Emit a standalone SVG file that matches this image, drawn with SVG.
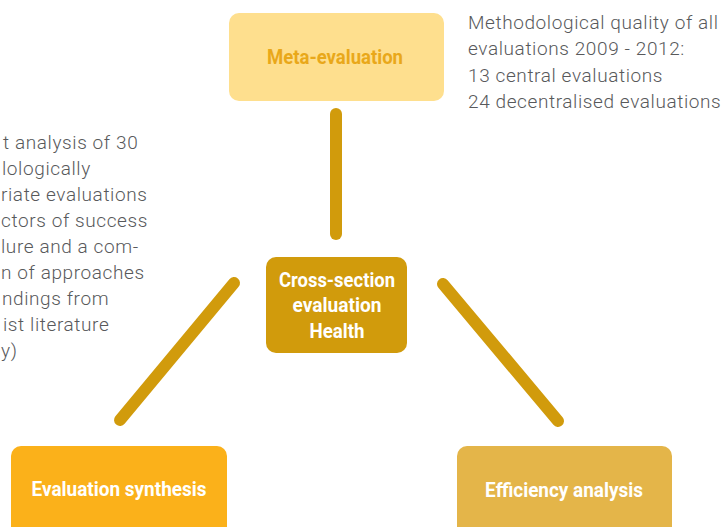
<svg xmlns="http://www.w3.org/2000/svg" width="722" height="527" viewBox="0 0 722 527">
<style>
.body{font-family:Roboto,"Liberation Sans",sans-serif;font-weight:300;font-size:19px;letter-spacing:0.6px;fill:#58595B}
.lbl{font-family:Roboto,"Liberation Sans",sans-serif;font-weight:700;font-size:21px;text-anchor:middle}
.conn{stroke:#D19B0C;stroke-width:12;stroke-linecap:round;fill:none}
</style>
<rect width="722" height="527" fill="#FFFFFF"/>
<g id="connectors">
<line class="conn" x1="336" y1="114" x2="336" y2="234"/>
<line class="conn" x1="234" y1="283" x2="120" y2="420"/>
<line class="conn" x1="443" y1="284" x2="558" y2="421"/>
</g>
<g id="meta-evaluation">
<rect x="229" y="13" width="215" height="88" rx="10" fill="#FEDF8E"/>
<text class="lbl" x="335" y="64" fill="#E9A81A" textLength="136" lengthAdjust="spacingAndGlyphs">Meta-evaluation</text>
</g>
<g id="cross-section">
<rect x="266" y="257" width="141" height="96" rx="10" fill="#D19B0C"/>
<text class="lbl" x="337" y="287" fill="#FFFFFF" textLength="116" lengthAdjust="spacingAndGlyphs">Cross-section</text>
<text class="lbl" x="337" y="312" fill="#FFFFFF" textLength="89" lengthAdjust="spacingAndGlyphs">evaluation</text>
<text class="lbl" x="337" y="338" fill="#FFFFFF" textLength="55" lengthAdjust="spacingAndGlyphs">Health</text>
</g>
<g id="evaluation-synthesis">
<rect x="11" y="446" width="216" height="100" rx="10" fill="#FBB11A"/>
<text class="lbl" x="119" y="496" fill="#FFFFFF" textLength="175" lengthAdjust="spacingAndGlyphs">Evaluation synthesis</text>
</g>
<g id="efficiency-analysis">
<rect x="457" y="446" width="215" height="100" rx="10" fill="#E4B549"/>
<text class="lbl" x="564" y="497" fill="#FFFFFF" textLength="158" lengthAdjust="spacingAndGlyphs">Efficiency analysis</text>
</g>
<g id="meta-note">
<text class="body" x="468" y="29">Methodological quality of all</text>
<text class="body" x="468" y="55">evaluations 2009 - 2012:</text>
<text class="body" x="468" y="82">13 central evaluations</text>
<text class="body" x="468" y="108">24 decentralised evaluations</text>
</g>
<g id="synthesis-note">
<text class="body" x="3" y="149">t analysis of 30</text>
<text class="body" x="2" y="175">lologically</text>
<text class="body" x="1" y="201">riate evaluations</text>
<text class="body" x="1" y="227">ctors of success</text>
<text class="body" x="1" y="253">lure and a com-</text>
<text class="body" x="1" y="279">n of approaches</text>
<text class="body" x="2" y="305">ndings from</text>
<text class="body" x="3" y="331">ist literature</text>
<text class="body" x="1" y="357">y)</text>
</g>
</svg>
